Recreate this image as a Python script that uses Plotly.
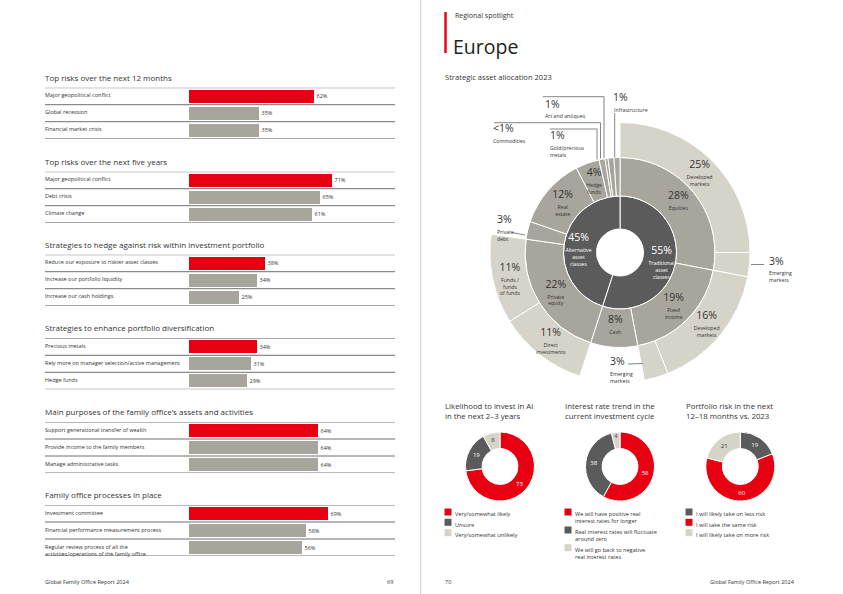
import math
import plotly.graph_objects as go

W, H = 843, 594
RED = "#e60012"
GREY = "#a8a59c"
DARK = "#5b5b5b"
LIGHT = "#d6d4c9"
TXT = "#333333"
FONT = "Open Sans"

# ---------------- Left page: bar sections ----------------
sec_titles = [
    "Top risks over the next 12 months",
    "Top risks over the next five years",
    "Strategies to hedge against risk within investment portfolio",
    "Strategies to enhance portfolio diversification",
    "Main purposes of the family office\u2019s assets and activities",
    "Family office processes in place",
]
sec1_labels = ["Major geopolitical conflict", "Global recession", "Financial market crisis"]
sec1_values = [62, 35, 35]
sec2_labels = ["Major geopolitical conflict", "Debt crisis", "Climate change"]
sec2_values = [71, 65, 61]
sec3_labels = ["Reduce our exposure to riskier asset classes", "Increase our portfolio liquidity",
               "Increase our cash holdings"]
sec3_values = [38, 34, 25]
sec4_labels = ["Precious metals", "Rely more on manager selection/active management", "Hedge funds"]
sec4_values = [34, 31, 29]
sec5_labels = ["Support generational transfer of wealth", "Provide income to the family members",
               "Manage administrative tasks"]
sec5_values = [64, 64, 64]
sec6_labels = ["Investment committee", "Financial performance measurement process",
               "Regular review process of all the<br>activities/operations of the family office"]
sec6_values = [69, 58, 56]

# ---------------- Right page: sunburst ----------------
inner_labels = ["Traditional<br>asset<br>classes", "Alternative<br>asset<br>classes"]
inner_values = [55, 45]
middle_labels = ["Equities", "Fixed<br>income", "Cash", "Private<br>equity", "Private<br>debt",
                 "Real<br>estate", "Hedge<br>funds", "Gold/precious<br>metals", "Commodities",
                 "Art and antiques", "Infrastructure"]
middle_values = [28, 19, 8, 22, 3, 12, 4, 1, 0.5, 1, 1]
middle_parent = [0, 0, 0, 1, 1, 1, 1, 1, 1, 1, 1]
outer_labels = ["Developed<br>markets", "Emerging<br>markets", "Developed<br>markets", "Emerging<br>markets",
                "Direct<br>investments", "Funds /<br>funds<br>of funds"]
outer_values = [25, 3, 16, 3, 11, 11]
outer_parent = [0, 0, 1, 1, 3, 3]

# ---------------- Right page: donuts ----------------
d_titles = ["Likelihood to invest in AI<br>in the next 2\u20133 years",
            "Interest rate trend in the<br>current investment cycle",
            "Portfolio risk in the next<br>12\u201318 months vs. 2023"]
d1_labels = ["Very/somewhat likely", "Unsure", "Very/somewhat unlikely"]
d1_values = [73, 19, 8]
d1_colors = [RED, DARK, LIGHT]
d2_labels = ["We will have positive real<br>interest rates for longer",
             "Real interest rates will fluctuate<br>around zero",
             "We will go back to negative<br>real interest rates"]
d2_values = [58, 38, 4]
d2_colors = [RED, DARK, LIGHT]
d3_labels = ["I will likely take on less risk", "I will take the same risk", "I will likely take on more risk"]
d3_values = [19, 60, 21]
d3_colors = [DARK, RED, LIGHT]


def px(x):
    return x / W


def py(y):
    return 1 - y / H


fig = go.Figure()
annotations = []
shapes = []


def ann(x, y, text, size, color=TXT, xanchor="left", yanchor="middle", **kw):
    xs = -2 if xanchor == "left" else (2 if xanchor == "right" else 0)
    annotations.append(dict(x=px(x), y=py(y), xref="paper", yref="paper", text=text, showarrow=False,
                            xanchor=xanchor, yanchor=yanchor, align="left", xshift=xs,
                            font=dict(family=FONT, size=size, color=color), **kw))


def line(x0, y0, x1, y1, color="#666666", width=0.8):
    shapes.append(dict(type="line", xref="paper", yref="paper", x0=px(x0), y0=py(y0), x1=px(x1), y1=py(y1),
                       line=dict(color=color, width=width)))


# ----- bar sections -----
sections = [(sec1_labels, sec1_values), (sec2_labels, sec2_values), (sec3_labels, sec3_values),
            (sec4_labels, sec4_values), (sec5_labels, sec5_values), (sec6_labels, sec6_values)]
tops = [87.7, 171.7, 254.7, 338.3, 422.0, 505.0]
sec_h = 51.0
layout_axes = {}
for k, ((labels, values), top) in enumerate(zip(sections, tops), start=1):
    xs = "x" if k == 1 else f"x{k}"
    ys = "y" if k == 1 else f"y{k}"
    xa = "xaxis" if k == 1 else f"xaxis{k}"
    ya = "yaxis" if k == 1 else f"yaxis{k}"
    rows = list(range(len(values)))
    fig.add_trace(go.Bar(
        x=values, y=rows, orientation="h", xaxis=xs, yaxis=ys, width=0.74,
        marker=dict(color=[RED] + [GREY] * (len(values) - 1), line=dict(width=0)),
        text=[f"{v}%" for v in values], textposition="outside", cliponaxis=False,
        textfont=dict(family=FONT, size=5.5, color=TXT), hoverinfo="skip", showlegend=False))
    layout_axes[xa] = dict(domain=[px(188.5), px(389.5)], range=[0, 100], visible=False, anchor=ys,
                           fixedrange=True)
    layout_axes[ya] = dict(domain=[py(top + sec_h), py(top)], range=[len(values) - 0.5, -0.5],
                           visible=False, anchor=xs, fixedrange=True)
    ann(45, top - 10.5, sec_titles[k - 1], 8)
    for i, lab in enumerate(labels):
        annotations.append(dict(x=px(45), y=i - 0.5, xref="paper", yref=ys, text=lab, showarrow=False,
                                xanchor="left", yanchor="top", yshift=-1.5, xshift=-2, align="left",
                                font=dict(family=FONT, size=5.5, color=TXT)))
    for i in range(len(values) + 1):
        shapes.append(dict(type="line", xref="paper", yref=ys, x0=px(45), x1=px(395), y0=i - 0.5, y1=i - 0.5,
                           line=dict(color="#707070", width=1)))

ann(45, 581.5, "Global Family Office Report 2024", 5.5)
ann(393, 581.5, "69", 5.5, xanchor="right")

# ----- page divider and header -----
shapes.append(dict(type="line", xref="paper", yref="paper", x0=px(420.7), x1=px(420.7), y0=0, y1=1,
                   line=dict(color="#cfcfcf", width=1)))
shapes.append(dict(type="rect", xref="paper", yref="paper", x0=px(444.3), x1=px(446.7), y0=py(53), y1=py(12),
                   fillcolor=RED, line=dict(width=0)))
ann(455, 16, "Regional spotlight", 7)
ann(452.5, 46.5, "Europe", 19.5, color="#222222")
ann(445, 77, "Strategic asset allocation 2023", 7.6)

# ----- sunburst geometry (barpolar rings) -----
R_HOLE, R_IN, R_MID, R_OUT = 23.5, 56.5, 95.0, 130.0
inner_start, inner_span = [], []
acc = 0.0
tot = sum(inner_values)
for v in inner_values:
    inner_start.append(acc)
    inner_span.append(360.0 * v / tot)
    acc += 360.0 * v / tot

middle_start = [0.0] * len(middle_values)
middle_span = [0.0] * len(middle_values)
for p in range(len(inner_values)):
    kids = [i for i, q in enumerate(middle_parent) if q == p]
    s = sum(middle_values[i] for i in kids)
    a = inner_start[p]
    for i in kids:
        middle_start[i] = a
        middle_span[i] = inner_span[p] * middle_values[i] / s
        a += middle_span[i]

outer_start = [0.0] * len(outer_values)
outer_span = [0.0] * len(outer_values)
for p in sorted(set(outer_parent)):
    kids = [i for i, q in enumerate(outer_parent) if q == p]
    s = sum(outer_values[i] for i in kids)
    a = middle_start[p]
    for i in kids:
        outer_start[i] = a
        outer_span[i] = middle_span[p] * outer_values[i] / s
        a += outer_span[i]


def ring(starts, spans, base, thick, color):
    fig.add_trace(go.Barpolar(
        theta=[s + w / 2 for s, w in zip(starts, spans)], width=spans, r=[thick] * len(spans),
        base=[base] * len(spans), marker=dict(color=color, line=dict(color="white", width=1)),
        hoverinfo="skip", showlegend=False, subplot="polar"))


ring(inner_start, inner_span, R_HOLE, R_IN - R_HOLE, DARK)
ring(middle_start, middle_span, R_IN, R_MID - R_IN, GREY)
ring(outer_start, outer_span, R_MID, R_OUT - R_MID, LIGHT)


def pct(v):
    return "<1%" if v < 1 else f"{v:g}%"


# in-segment labels
ext_middle = {4, 7, 8, 9, 10}
ext_outer = {1, 3}
lab_r, lab_t, lab_pct, lab_name, lab_col = [], [], [], [], []
for i, v in enumerate(inner_values):
    lab_r.append((R_HOLE + R_IN) / 2 + 2); lab_t.append(inner_start[i] + inner_span[i] / 2)
    lab_pct.append(pct(v)); lab_name.append(inner_labels[i]); lab_col.append("white")
for i, v in enumerate(middle_values):
    if i in ext_middle:
        continue
    lab_r.append((R_IN + R_MID) / 2); lab_t.append(middle_start[i] + middle_span[i] / 2)
    lab_pct.append(pct(v)); lab_name.append(middle_labels[i]); lab_col.append(TXT)
for i, v in enumerate(outer_values):
    if i in ext_outer:
        continue
    lab_r.append((R_MID + R_OUT) / 2); lab_t.append(outer_start[i] + outer_span[i] / 2)
    lab_pct.append(pct(v)); lab_name.append(outer_labels[i]); lab_col.append(TXT)

ghost = dict(size=2, color="rgba(0,0,0,0)")
fig.add_trace(go.Scatterpolar(r=lab_r, theta=lab_t, mode="text+markers", marker=ghost, text=lab_pct,
                              textposition="top center",
                              textfont=dict(family=FONT, size=10.5, color=lab_col), hoverinfo="skip",
                              showlegend=False, subplot="polar"))
fig.add_trace(go.Scatterpolar(r=lab_r, theta=lab_t, mode="text+markers", marker=ghost, text=lab_name,
                              textposition="bottom center",
                              textfont=dict(family=FONT, size=5.2, color=lab_col), hoverinfo="skip",
                              showlegend=False, subplot="polar"))

CX, CY = 620.0, 252.5
fig.update_layout(polar=dict(
    domain=dict(x=[px(CX - R_OUT), px(CX + R_OUT)], y=[py(CY + R_OUT), py(CY - R_OUT)]),
    radialaxis=dict(visible=False, range=[0, R_OUT]),
    angularaxis=dict(visible=False, direction="clockwise", rotation=90),
    bgcolor="rgba(0,0,0,0)", hole=0))


# external labels with leader lines (label anchor positions are layout)
def ext_label(x, y, v, name):
    ann(x, y, pct(v), 10.5)
    ann(x + 0.5, y + 6.5, name, 5.2, yanchor="top")


ext_label(613, 97, middle_values[10], "Infrastructure")
line(614.7, 113, 614.7, 157.5)
ext_label(544.5, 104, middle_values[9], "Art and antiques")
line(543, 96.7, 604, 96.7); line(604, 96.7, 604, 158)
ext_label(493, 128, middle_values[8], "Commodities")
line(494, 122.7, 600.5, 122.7); line(600.5, 122.7, 600.5, 158.5)
ext_label(549.5, 135, middle_values[7], "Gold/precious<br>metals")
line(550, 129, 597, 129); line(597, 129, 597, 159.5)
ext_label(496.5, 219, middle_values[4], "Private<br>debt")
line(512, 232.5, 525, 235)
ext_label(768.5, 261, outer_values[1], "Emerging<br>markets")
line(751, 264.5, 764, 264.5)
ext_label(609.5, 361, outer_values[3], "Emerging<br>markets")
line(628, 364, 643, 363.5)

# ----- donuts -----
donuts = [(d1_labels, d1_values, d1_colors, 500.0, 445.0, [512.0, 522.3, 532.7]),
          (d2_labels, d2_values, d2_colors, 620.0, 565.0, [512.0, 530.0, 547.7]),
          (d3_labels, d3_values, d3_colors, 740.3, 686.0, [512.0, 522.3, 532.7])]
DCY, DR = 466.5, 34.5
for j, (labels, values, colors, cx, lx, ly) in enumerate(donuts):
    fig.add_trace(go.Pie(
        labels=[l.replace("<br>", " ") for l in labels], values=values, hole=0.52, sort=False,
        direction="clockwise", rotation=0, marker=dict(colors=colors, line=dict(color="white", width=1)),
        textinfo="value", textposition="inside", insidetextorientation="horizontal",
        textfont=dict(family=FONT, size=6, color=["#333333" if c == LIGHT else "white" for c in colors]),
        domain=dict(x=[px(cx - DR), px(cx + DR)], y=[py(DCY + DR), py(DCY - DR)]),
        hoverinfo="skip", showlegend=False))
    ann(lx, 398.5, d_titles[j], 7.8, yanchor="top")
    for lab, c, yy in zip(labels, colors, ly):
        shapes.append(dict(type="rect", xref="paper", yref="paper", x0=px(lx - 0.5), x1=px(lx + 6.5),
                           y0=py(yy + 3.5), y1=py(yy - 3.5), fillcolor=c, line=dict(width=0)))
        ann(lx + 10, yy - 3.6, lab, 5.6, yanchor="top")

ann(445, 581.5, "70", 5.5)
ann(795, 581.5, "Global Family Office Report 2024", 5.5, xanchor="right")

fig.update_layout(
    width=W, height=H, autosize=False, margin=dict(l=0, r=0, t=0, b=0),
    paper_bgcolor="white", plot_bgcolor="white", showlegend=False,
    font=dict(family=FONT, color=TXT), bargap=0,
    annotations=annotations, shapes=shapes, **layout_axes)

fig.write_html("out.html", config={"displayModeBar": False},
               post_script="document.body.style.margin='0';document.body.style.padding='0';")
